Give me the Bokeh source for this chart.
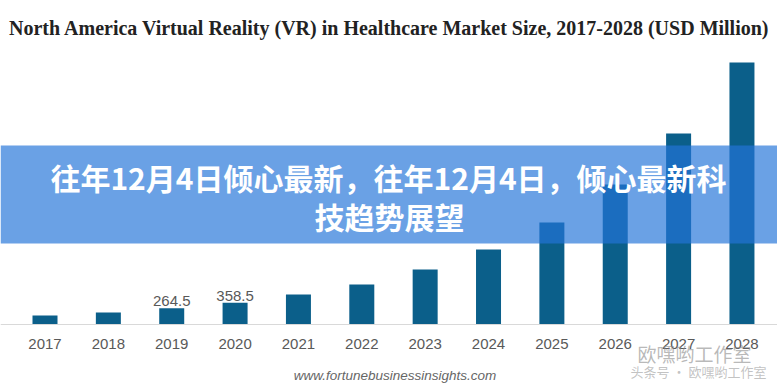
from bokeh.plotting import figure
from bokeh.models import ColumnDataSource, Range1d, FixedTicker, BoxAnnotation, Label
from bokeh.core.properties import value
from bokeh.transform import dodge
from bokeh.embed import file_html
from bokeh.resources import INLINE

# ---- data ----
years = [2017, 2018, 2019, 2020, 2021, 2022, 2023, 2024, 2025, 2026, 2027, 2028]
market_size = [148, 197, 264.5, 358.5, 492, 656, 902, 1230, 1673, 2296, 3132, 4297]
label_years = [2019, 2020]
label_values = [264.5, 358.5]
year_labels = [str(y) for y in years]

title_text = "North America Virtual Reality (VR) in Healthcare Market Size, 2017-2028 (USD Million)"
banner_line1 = "往年12月4日倾心最新，往年12月4日，倾心最新科"
banner_line2 = "技趋势展望"
source_text = "www.fortunebusinessinsights.com"
wm_line1 = "欧嘿哟工作室"
wm_line2 = "头条号 · 欧嘿哟工作室"

# ---- geometry helpers (picture pixel -> data) ----
W, H = 777, 388
BASE = 324             # picture y of the baseline
XPP = 63.36            # pixels per year
YPP = 16.4             # data units per pixel
x_start = years[0] - 44.5 / XPP
x_end = x_start + W / XPP


def px_x(px):
    return x_start + px / XPP


def px_y(py):
    return (BASE - py) * YPP


p = figure(width=W, height=H, output_backend="svg", toolbar_location=None,
           x_range=Range1d(x_start, x_end), y_range=Range1d(px_y(H), px_y(0)),
           y_axis_location=None, min_border_left=0, min_border_right=0,
           min_border_top=0, min_border_bottom=0)
p.outline_line_color = None
p.xgrid.visible = False
p.ygrid.visible = False
p.background_fill_color = "white"
p.border_fill_color = "white"

src = ColumnDataSource(dict(x=years, top=market_size))
p.vbar(x="x", top="top", bottom=0, width=25 / XPP, source=src,
       fill_color="#0b5f8a", line_color=None)

lsrc = ColumnDataSource(dict(x=label_years, y=label_values,
                             t=[str(v) for v in label_values]))
p.text(x="x", y=dodge("y", 7 * YPP, range=p.y_range), text="t", source=lsrc,
       text_align="center", text_baseline="alphabetic", text_color="#595959",
       text_font=value("Liberation Sans"), text_font_size="15px")

ax = p.xaxis[0]
ax.fixed_location = 0
ax.ticker = FixedTicker(ticks=years)
ax.major_label_overrides = {y: s for y, s in zip(years, year_labels)}
ax.major_tick_line_color = None
ax.minor_tick_line_color = None
ax.axis_line_color = "#d9d9d9"
ax.axis_line_width = 1
ax.major_label_standoff = 8
ax.major_label_text_font = "Liberation Sans"
ax.major_label_text_font_size = "15px"
ax.major_label_text_color = "#595959"

# title
p.add_layout(Label(x=px_x(389), y=px_y(27), text=title_text, text_align="center",
                   text_baseline="middle", text_font="Liberation Serif",
                   text_font_style="bold", text_font_size="20px",
                   text_color="#222222"))

# banner overlay
p.add_layout(BoxAnnotation(bottom=px_y(243), top=px_y(145), fill_color="#2474d8",
                           fill_alpha=0.68, line_color=None))
p.add_layout(Label(x=px_x(388), y=px_y(176), text=banner_line1, text_align="center",
                   text_baseline="middle", text_font="Noto Sans CJK SC",
                   text_font_style="bold", text_font_size="30px",
                   text_color="white"))
p.add_layout(Label(x=px_x(389), y=px_y(215), text=banner_line2, text_align="center",
                   text_baseline="middle", text_font="Noto Sans CJK SC",
                   text_font_style="bold", text_font_size="30px",
                   text_color="white"))

# source and watermark
p.add_layout(Label(x=px_x(394.5), y=px_y(375), text=source_text, text_align="center",
                   text_baseline="middle", text_font="Liberation Sans",
                   text_font_style="italic", text_font_size="13.5px",
                   text_color="#666666"))
p.add_layout(Label(x=px_x(694), y=px_y(353), text=wm_line1, text_align="center",
                   text_baseline="middle", text_font="Noto Sans CJK SC",
                   text_font_size="19px", text_color="#8a8a8a", text_alpha=0.6))
p.add_layout(Label(x=px_x(698), y=px_y(371), text=wm_line2, text_align="center",
                   text_baseline="middle", text_font="Noto Sans CJK SC",
                   text_font_size="13px", text_color="#9a9a9a", text_alpha=0.6))

open("out.html", "w").write(file_html(p, INLINE))
